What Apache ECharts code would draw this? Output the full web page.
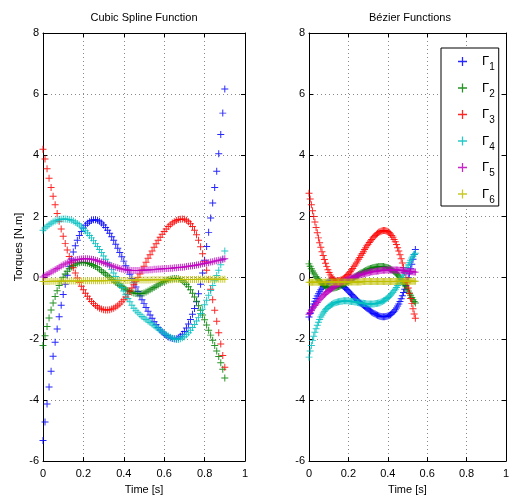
<!DOCTYPE html>
<html>
<head>
<meta charset="utf-8">
<script src="https://cdn.jsdelivr.net/npm/echarts@6/dist/echarts.min.js"></script>
<style>
html, body { margin: 0; padding: 0; background: #fff; }
#chart { width: 512px; height: 500px; }
</style>
</head>
<body>
<div id="chart"></div>
<script>
// sample times of the two trajectories
const tLeft = [
    0, 0.01, 0.02, 0.03, 0.04, 0.05, 0.06, 0.07, 0.08, 0.09,
    0.1, 0.11, 0.12, 0.13, 0.14, 0.15, 0.16, 0.17, 0.18, 0.19,
    0.2, 0.21, 0.22, 0.23, 0.24, 0.25, 0.26, 0.27, 0.28, 0.29,
    0.3, 0.31, 0.32, 0.33, 0.34, 0.35, 0.36, 0.37, 0.38, 0.39,
    0.4, 0.41, 0.42, 0.43, 0.44, 0.45, 0.46, 0.47, 0.48, 0.49,
    0.5, 0.51, 0.52, 0.53, 0.54, 0.55, 0.56, 0.57, 0.58, 0.59,
    0.6, 0.61, 0.62, 0.63, 0.64, 0.65, 0.66, 0.67, 0.68, 0.69,
    0.7, 0.71, 0.72, 0.73, 0.74, 0.75, 0.76, 0.77, 0.78, 0.79,
    0.8, 0.81, 0.82, 0.83, 0.84, 0.85, 0.86, 0.87, 0.88, 0.89,
    0.9
];
const tRight = [
    0, 0.006, 0.012, 0.018, 0.024, 0.03, 0.036, 0.042, 0.048, 0.054,
    0.06, 0.066, 0.072, 0.078, 0.084, 0.09, 0.096, 0.102, 0.108, 0.114,
    0.12, 0.126, 0.132, 0.138, 0.144, 0.15, 0.156, 0.162, 0.168, 0.174,
    0.18, 0.186, 0.192, 0.198, 0.204, 0.21, 0.216, 0.222, 0.228, 0.234,
    0.24, 0.246, 0.252, 0.258, 0.264, 0.27, 0.276, 0.282, 0.288, 0.294,
    0.3, 0.306, 0.312, 0.318, 0.324, 0.33, 0.336, 0.342, 0.348, 0.354,
    0.36, 0.366, 0.372, 0.378, 0.384, 0.39, 0.396, 0.402, 0.408, 0.414,
    0.42, 0.426, 0.432, 0.438, 0.444, 0.45, 0.456, 0.462, 0.468, 0.474,
    0.48, 0.486, 0.492, 0.498, 0.504, 0.51, 0.516, 0.522, 0.528, 0.534,
    0.54
];

// cubic spline torques
const g1Spline = [
    -5.33, -4.72, -4.13, -3.58, -3.06, -2.57, -2.11, -1.68, -1.28, -0.90,
    -0.55, -0.22, 0.08, 0.36, 0.61, 0.84, 1.04, 1.22, 1.38, 1.51,
    1.62, 1.71, 1.78, 1.83, 1.87, 1.89, 1.89, 1.88, 1.84, 1.79,
    1.72, 1.64, 1.55, 1.45, 1.34, 1.22, 1.09, 0.96, 0.82, 0.68,
    0.54, 0.39, 0.25, 0.11, -0.03, -0.17, -0.31, -0.45, -0.59, -0.72,
    -0.85, -0.98, -1.10, -1.22, -1.33, -1.44, -1.54, -1.63, -1.71, -1.78,
    -1.84, -1.89, -1.94, -1.97, -1.99, -2.00, -2.00, -1.97, -1.92, -1.85,
    -1.76, -1.65, -1.52, -1.37, -1.20, -1.01, -0.79, -0.53, -0.22, 0.15,
    0.57, 1.02, 1.48, 1.95, 2.44, 2.95, 3.48, 4.05, 4.68, 5.38,
    6.17
];
const g2Spline = [
    -2.22, -1.90, -1.60, -1.32, -1.06, -0.83, -0.62, -0.43, -0.26, -0.12,
    0.01, 0.12, 0.21, 0.29, 0.35, 0.40, 0.44, 0.47, 0.49, 0.50,
    0.50, 0.49, 0.48, 0.46, 0.43, 0.40, 0.36, 0.32, 0.27, 0.22,
    0.17, 0.12, 0.06, 0.01, -0.05, -0.10, -0.15, -0.20, -0.25, -0.30,
    -0.34, -0.38, -0.42, -0.45, -0.48, -0.50, -0.52, -0.53, -0.53, -0.52,
    -0.50, -0.47, -0.44, -0.40, -0.36, -0.32, -0.28, -0.24, -0.20, -0.16,
    -0.13, -0.10, -0.07, -0.05, -0.04, -0.03, -0.03, -0.04, -0.06, -0.10,
    -0.15, -0.22, -0.30, -0.40, -0.51, -0.63, -0.77, -0.92, -1.07, -1.22,
    -1.38, -1.55, -1.72, -1.88, -2.05, -2.22, -2.40, -2.58, -2.78, -3.00,
    -3.28
];
const g3Spline = [
    4.20, 3.88, 3.56, 3.25, 2.95, 2.66, 2.38, 2.10, 1.84, 1.59,
    1.35, 1.12, 0.90, 0.69, 0.50, 0.32, 0.15, -0.01, -0.15, -0.28,
    -0.40, -0.51, -0.61, -0.70, -0.78, -0.85, -0.91, -0.96, -1.00, -1.03,
    -1.05, -1.06, -1.06, -1.05, -1.03, -1.00, -0.96, -0.92, -0.86, -0.79,
    -0.72, -0.63, -0.54, -0.44, -0.34, -0.23, -0.12, 0.00, 0.12, 0.25,
    0.37, 0.50, 0.63, 0.75, 0.87, 0.99, 1.11, 1.22, 1.32, 1.42,
    1.51, 1.59, 1.67, 1.73, 1.79, 1.83, 1.87, 1.90, 1.91, 1.92,
    1.91, 1.88, 1.83, 1.76, 1.67, 1.55, 1.40, 1.22, 1.01, 0.78,
    0.52, 0.24, -0.06, -0.38, -0.72, -1.07, -1.43, -1.80, -2.17, -2.55,
    -2.93
];
const g4Spline = [
    1.55, 1.62, 1.68, 1.73, 1.78, 1.82, 1.85, 1.88, 1.90, 1.91,
    1.92, 1.92, 1.91, 1.90, 1.88, 1.85, 1.81, 1.77, 1.72, 1.66,
    1.60, 1.53, 1.46, 1.38, 1.30, 1.21, 1.12, 1.02, 0.92, 0.82,
    0.71, 0.60, 0.49, 0.38, 0.27, 0.15, 0.04, -0.08, -0.20, -0.32,
    -0.44, -0.56, -0.68, -0.79, -0.90, -1.00, -1.08, -1.15, -1.21, -1.27,
    -1.32, -1.37, -1.42, -1.47, -1.52, -1.57, -1.62, -1.67, -1.72, -1.77,
    -1.82, -1.87, -1.91, -1.95, -1.98, -2.00, -2.02, -2.02, -2.00, -1.97,
    -1.93, -1.87, -1.80, -1.72, -1.63, -1.53, -1.42, -1.30, -1.17, -1.03,
    -0.89, -0.74, -0.58, -0.42, -0.26, -0.10, 0.07, 0.24, 0.42, 0.61,
    0.87
];
const g5Spline = [
    0.02, 0.06, 0.10, 0.14, 0.18, 0.22, 0.26, 0.30, 0.34, 0.38,
    0.42, 0.45, 0.48, 0.51, 0.54, 0.56, 0.58, 0.59, 0.60, 0.61,
    0.62, 0.62, 0.62, 0.61, 0.60, 0.59, 0.57, 0.55, 0.53, 0.51,
    0.49, 0.46, 0.44, 0.41, 0.39, 0.36, 0.34, 0.32, 0.30, 0.28,
    0.27, 0.26, 0.25, 0.24, 0.23, 0.23, 0.23, 0.23, 0.23, 0.24,
    0.24, 0.25, 0.25, 0.26, 0.26, 0.27, 0.27, 0.28, 0.28, 0.29,
    0.29, 0.30, 0.30, 0.31, 0.31, 0.32, 0.32, 0.33, 0.34, 0.34,
    0.35, 0.36, 0.37, 0.38, 0.39, 0.40, 0.41, 0.42, 0.44, 0.45,
    0.46, 0.48, 0.49, 0.51, 0.52, 0.54, 0.55, 0.57, 0.58, 0.60,
    0.62
];
const g6Spline = [
    -0.13, -0.13, -0.13, -0.13, -0.12, -0.12, -0.12, -0.12, -0.12, -0.12,
    -0.12, -0.11, -0.11, -0.11, -0.11, -0.11, -0.11, -0.11, -0.11, -0.11,
    -0.10, -0.10, -0.10, -0.10, -0.10, -0.10, -0.10, -0.10, -0.10, -0.10,
    -0.10, -0.10, -0.09, -0.09, -0.09, -0.09, -0.09, -0.09, -0.09, -0.09,
    -0.09, -0.09, -0.09, -0.09, -0.08, -0.08, -0.08, -0.08, -0.08, -0.08,
    -0.08, -0.08, -0.08, -0.08, -0.07, -0.07, -0.07, -0.07, -0.07, -0.07,
    -0.07, -0.07, -0.07, -0.07, -0.07, -0.06, -0.06, -0.06, -0.06, -0.06,
    -0.06, -0.06, -0.06, -0.06, -0.06, -0.06, -0.06, -0.05, -0.05, -0.05,
    -0.05, -0.05, -0.05, -0.05, -0.05, -0.05, -0.05, -0.05, -0.05, -0.05,
    -0.05
];

// bezier torques
const g1Bezier = [
    -1.29, -1.17, -1.06, -0.96, -0.86, -0.77, -0.68, -0.60, -0.53, -0.46,
    -0.40, -0.34, -0.29, -0.25, -0.21, -0.18, -0.15, -0.13, -0.12, -0.11,
    -0.10, -0.11, -0.12, -0.14, -0.16, -0.18, -0.20, -0.23, -0.26, -0.29,
    -0.32, -0.35, -0.39, -0.43, -0.47, -0.51, -0.55, -0.59, -0.63, -0.67,
    -0.71, -0.75, -0.79, -0.82, -0.85, -0.88, -0.91, -0.94, -0.97, -1.00,
    -1.03, -1.06, -1.09, -1.12, -1.15, -1.17, -1.19, -1.21, -1.23, -1.25,
    -1.26, -1.27, -1.28, -1.28, -1.28, -1.27, -1.26, -1.25, -1.23, -1.21,
    -1.18, -1.14, -1.10, -1.05, -0.99, -0.93, -0.86, -0.78, -0.69, -0.59,
    -0.49, -0.38, -0.26, -0.13, 0.00, 0.14, 0.29, 0.44, 0.60, 0.76,
    0.92
];
const g2Bezier = [
    0.45, 0.37, 0.29, 0.22, 0.15, 0.09, 0.03, -0.02, -0.07, -0.12,
    -0.16, -0.20, -0.23, -0.26, -0.28, -0.30, -0.32, -0.33, -0.34, -0.34,
    -0.34, -0.34, -0.33, -0.32, -0.31, -0.29, -0.28, -0.26, -0.24, -0.22,
    -0.20, -0.18, -0.15, -0.13, -0.10, -0.08, -0.05, -0.03, 0.00, 0.03,
    0.05, 0.08, 0.10, 0.13, 0.15, 0.17, 0.19, 0.21, 0.23, 0.25,
    0.27, 0.28, 0.30, 0.31, 0.32, 0.33, 0.34, 0.35, 0.35, 0.36,
    0.36, 0.36, 0.36, 0.36, 0.35, 0.34, 0.33, 0.32, 0.30, 0.28,
    0.26, 0.23, 0.20, 0.17, 0.13, 0.09, 0.05, 0.00, -0.05, -0.11,
    -0.17, -0.23, -0.30, -0.37, -0.44, -0.51, -0.58, -0.65, -0.72, -0.78,
    -0.83
];
const g3Bezier = [
    2.76, 2.57, 2.38, 2.19, 2.00, 1.82, 1.64, 1.47, 1.30, 1.14,
    0.99, 0.85, 0.72, 0.59, 0.47, 0.36, 0.26, 0.17, 0.09, 0.02,
    -0.03, -0.07, -0.10, -0.11, -0.11, -0.10, -0.09, -0.08, -0.06, -0.04,
    -0.01, 0.02, 0.06, 0.10, 0.15, 0.19, 0.25, 0.30, 0.36, 0.41,
    0.48, 0.54, 0.60, 0.66, 0.73, 0.79, 0.85, 0.92, 0.98, 1.04,
    1.09, 1.15, 1.20, 1.25, 1.30, 1.34, 1.38, 1.42, 1.45, 1.48,
    1.50, 1.52, 1.53, 1.54, 1.54, 1.53, 1.52, 1.50, 1.47, 1.43,
    1.38, 1.32, 1.25, 1.17, 1.08, 0.98, 0.87, 0.75, 0.62, 0.48,
    0.33, 0.17, 0.00, -0.17, -0.34, -0.51, -0.68, -0.85, -1.02, -1.19,
    -1.33
];
const g4Bezier = [
    -2.60, -2.40, -2.22, -2.06, -1.92, -1.79, -1.67, -1.56, -1.46, -1.37,
    -1.29, -1.22, -1.16, -1.10, -1.05, -1.01, -0.97, -0.94, -0.91, -0.88,
    -0.86, -0.84, -0.82, -0.81, -0.80, -0.79, -0.78, -0.77, -0.77, -0.76,
    -0.76, -0.76, -0.76, -0.76, -0.77, -0.77, -0.78, -0.78, -0.79, -0.80,
    -0.80, -0.81, -0.82, -0.82, -0.83, -0.84, -0.84, -0.85, -0.85, -0.86,
    -0.86, -0.86, -0.86, -0.86, -0.86, -0.86, -0.85, -0.85, -0.84, -0.83,
    -0.82, -0.80, -0.78, -0.76, -0.74, -0.71, -0.68, -0.65, -0.61, -0.57,
    -0.53, -0.48, -0.43, -0.38, -0.32, -0.26, -0.20, -0.13, -0.06, 0.01,
    0.09, 0.17, 0.25, 0.33, 0.41, 0.49, 0.57, 0.64, 0.70, 0.76,
    0.80
];
const g5Bezier = [
    -1.20, -1.14, -1.08, -1.02, -0.96, -0.91, -0.86, -0.81, -0.76, -0.71,
    -0.67, -0.63, -0.59, -0.55, -0.51, -0.48, -0.45, -0.42, -0.39, -0.36,
    -0.33, -0.30, -0.28, -0.25, -0.23, -0.21, -0.19, -0.17, -0.15, -0.13,
    -0.11, -0.09, -0.08, -0.06, -0.04, -0.03, -0.01, 0.00, 0.02, 0.03,
    0.05, 0.06, 0.07, 0.09, 0.10, 0.11, 0.12, 0.13, 0.14, 0.15,
    0.16, 0.17, 0.18, 0.19, 0.19, 0.20, 0.21, 0.21, 0.22, 0.22,
    0.23, 0.23, 0.24, 0.24, 0.24, 0.25, 0.25, 0.25, 0.25, 0.25,
    0.25, 0.25, 0.25, 0.25, 0.25, 0.25, 0.24, 0.24, 0.24, 0.23,
    0.23, 0.22, 0.22, 0.21, 0.21, 0.20, 0.20, 0.19, 0.19, 0.18,
    0.18
];
const g6Bezier = [
    -0.15, -0.15, -0.15, -0.15, -0.15, -0.15, -0.15, -0.15, -0.15, -0.15,
    -0.15, -0.15, -0.15, -0.15, -0.15, -0.14, -0.14, -0.14, -0.14, -0.14,
    -0.14, -0.14, -0.14, -0.14, -0.14, -0.14, -0.14, -0.14, -0.14, -0.14,
    -0.14, -0.14, -0.14, -0.14, -0.14, -0.14, -0.14, -0.14, -0.14, -0.14,
    -0.14, -0.14, -0.14, -0.14, -0.14, -0.13, -0.13, -0.13, -0.13, -0.13,
    -0.13, -0.13, -0.13, -0.13, -0.13, -0.13, -0.13, -0.13, -0.13, -0.13,
    -0.13, -0.13, -0.13, -0.13, -0.13, -0.13, -0.13, -0.13, -0.13, -0.13,
    -0.13, -0.13, -0.13, -0.13, -0.13, -0.12, -0.12, -0.12, -0.12, -0.12,
    -0.12, -0.12, -0.12, -0.12, -0.12, -0.12, -0.12, -0.12, -0.12, -0.12,
    -0.12
];

const jointNames = ['Γ1', 'Γ2', 'Γ3', 'Γ4', 'Γ5', 'Γ6'];
const jointColors = ['#0000ff', '#008000', '#ff0000', '#00bfbf', '#bf00bf', '#bfbf00'];
const xTicks = [0, 0.2, 0.4, 0.6, 0.8, 1];
const yTicks = [-6, -4, -2, 0, 2, 4, 6, 8];

const splineSeries = [g1Spline, g2Spline, g3Spline, g4Spline, g5Spline, g6Spline];
const bezierSeries = [g1Bezier, g2Bezier, g3Bezier, g4Bezier, g5Bezier, g6Bezier];

const font = 'Liberation Sans, Arial, sans-serif';
const plusMark = 'path://M0,4.3H10V5.7H0Z M4.3,0H5.7V10H4.3Z';

const chart = echarts.init(document.getElementById('chart'));

const gridDots = {
    show: true,
    lineStyle: {color: '#8a8a8a', width: 1, type: [1, 3]}
};
const blackLine = {show: true, onZero: false, lineStyle: {color: '#000', width: 1}};
const innerTick = {show: true, inside: true, length: 4, lineStyle: {color: '#000'}};

function xAxisPair(gridIndex) {
    return [
        {
            type: 'value', gridIndex: gridIndex,
            min: xTicks[0], max: xTicks[xTicks.length - 1], interval: 0.2,
            axisLine: blackLine, axisTick: innerTick, splitLine: gridDots,
            axisLabel: {color: '#000', fontSize: 11, fontFamily: font, margin: 7},
            name: 'Time [s]', nameLocation: 'middle', nameGap: 22,
            nameTextStyle: {color: '#000', fontSize: 11, fontFamily: font}
        },
        {
            type: 'value', gridIndex: gridIndex, position: 'top',
            min: xTicks[0], max: xTicks[xTicks.length - 1], interval: 0.2,
            axisLine: blackLine, axisTick: innerTick,
            axisLabel: {show: false}, splitLine: {show: false}
        }
    ];
}

function yAxisPair(gridIndex, withName) {
    let left = {
        type: 'value', gridIndex: gridIndex,
        min: yTicks[0], max: yTicks[yTicks.length - 1], interval: 2,
        axisLine: blackLine, axisTick: innerTick, splitLine: gridDots,
        axisLabel: {color: '#000', fontSize: 11, fontFamily: font, margin: 4}
    };
    if (withName) {
        left.name = 'Torques [N.m]';
        left.nameLocation = 'middle';
        left.nameGap = 19;
        left.nameTextStyle = {color: '#000', fontSize: 11, fontFamily: font};
    }
    return [
        left,
        {
            type: 'value', gridIndex: gridIndex, position: 'right',
            min: yTicks[0], max: yTicks[yTicks.length - 1], interval: 2,
            axisLine: blackLine, axisTick: innerTick,
            axisLabel: {show: false}, splitLine: {show: false}
        }
    ];
}

function makeSeries(times, values, idx, axisIndex) {
    return {
        type: 'scatter',
        name: jointNames[idx],
        xAxisIndex: axisIndex,
        yAxisIndex: axisIndex,
        symbol: plusMark,
        symbolSize: 7,
        itemStyle: {color: jointColors[idx], opacity: 0.85},
        data: times.map((t, i) => [t, values[i]])
    };
}

let series = [];
splineSeries.forEach((vals, i) => series.push(makeSeries(tLeft, vals, i, 0)));
bezierSeries.forEach((vals, i) => series.push(makeSeries(tRight, vals, i, 2)));

const option = {
    animation: false,
    backgroundColor: '#fff',
    title: [
        {
            text: 'Cubic Spline Function', left: 144, top: 12, padding: 0,
            textAlign: 'center',
            textStyle: {color: '#000', fontSize: 11, fontWeight: 'normal', fontFamily: font}
        },
        {
            text: 'Bézier Functions', left: 410, top: 12, padding: 0,
            textAlign: 'center',
            textStyle: {color: '#000', fontSize: 11, fontWeight: 'normal', fontFamily: font}
        }
    ],
    legend: {
        orient: 'vertical',
        left: 441, top: 48,
        padding: [7, 4, 1, 17],
        itemWidth: 9, itemHeight: 9, itemGap: 9,
        borderColor: '#000', borderWidth: 1, backgroundColor: '#fff',
        selectedMode: false,
        data: jointNames.map(n => ({name: n, icon: plusMark})),
        formatter: n => '{g|Γ}{s|' + n.slice(1) + '}',
        textStyle: {
            color: '#000', fontFamily: font,
            rich: {
                g: {fontSize: 13, fontFamily: font, color: '#000', padding: [0, 0, 0, 10]},
                s: {fontSize: 10, fontFamily: font, color: '#000', padding: [12, 0, 0, 0]}
            }
        }
    },
    grid: [
        {left: 43, top: 33, width: 202, height: 431},
        {left: 309, top: 33, width: 202, height: 431}
    ],
    xAxis: xAxisPair(0).concat(xAxisPair(1)),
    yAxis: yAxisPair(0, true).concat(yAxisPair(1, false)),
    series: series
};

chart.setOption(option);
</script>
</body>
</html>
